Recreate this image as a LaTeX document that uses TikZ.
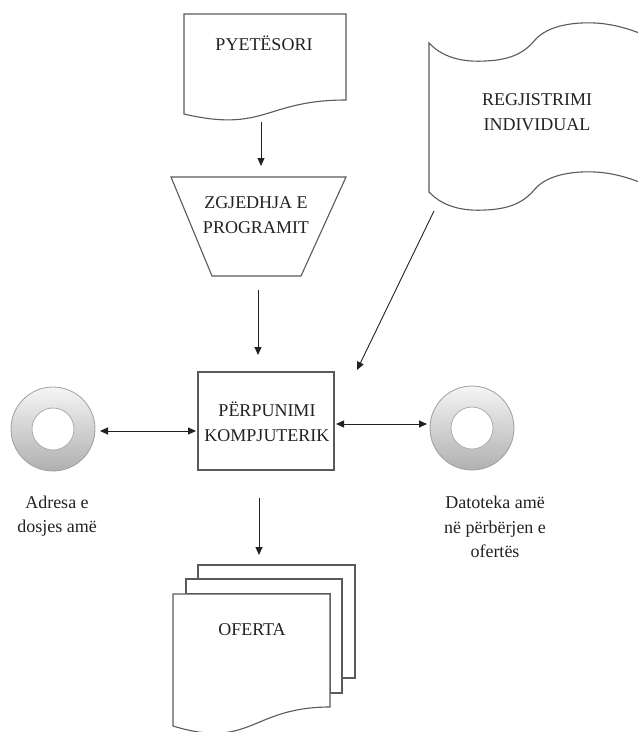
\documentclass[tikz,border=0pt]{standalone}
\usepackage{fontspec}
\setmainfont{Liberation Serif}
\usetikzlibrary{arrows.meta}
\definecolor{edge}{HTML}{5A5A5A}
\definecolor{ink}{HTML}{222222}
\tikzset{
  outline/.style={draw=edge, line width=1.1pt, fill=white},
  label/.style={text=ink, align=center, font=\fontsize{18}{24.5}\selectfont, inner sep=0pt},
  flow/.style={draw=ink, line width=0.9pt, -{Triangle[length=8pt,width=7pt]}},
  flowboth/.style={draw=ink, line width=0.9pt, {Triangle[length=8pt,width=7pt]}-{Triangle[length=8pt,width=7pt]}},
  diskring/.style={circle, draw=gray!75, line width=0.8pt, top color=gray!8, bottom color=gray!62, minimum size=84pt, inner sep=0pt},
  diskhole/.style={circle, draw=gray!65, line width=0.8pt, fill=white, minimum size=42pt, inner sep=0pt}
}
\begin{document}
\begin{tikzpicture}[x=1pt,y=-1pt]
\useasboundingbox (0,0) rectangle (638,732);
\clip (0,0) rectangle (638,732);

% questionnaire (document shape)
\draw[outline] (184,14) -- (346,14) -- (346,100)
  .. controls (265,100) and (265,133) .. (184,114) -- cycle;
\node[label] (quest) at (264,43) {PYETËSORI};

% programme selection (manual operation trapezoid)
\draw[outline] (171,177) -- (346,177) -- (301,276) -- (212,276) -- cycle;
\node[label] (select) at (256,215) {ZGJEDHJA E\\PROGRAMIT};

% individual registration (punched tape)
\draw[outline] (429,43)
  .. controls (445,60) and (468,62) .. (485,61)
  .. controls (512,60) and (525,52) .. (535,40)
  .. controls (548,25) and (575,22) .. (595,23)
  .. controls (615,24) and (635,30) .. (660,42)
  -- (660,191)
  .. controls (635,179) and (615,173) .. (595,172)
  .. controls (575,171) and (548,174) .. (535,189)
  .. controls (525,201) and (512,209) .. (485,210)
  .. controls (468,211) and (445,209) .. (429,192) -- cycle;
\node[label] (reg) at (537,112) {REGJISTRIMI\\INDIVIDUAL};

% computer processing
\node[outline, rectangle, minimum width=136pt, minimum height=98pt] (proc) at (266,421) {};
\node[label] (proctext) at (267,422) {PËRPUNIMI\\KOMPJUTERIK};

% disks
\node[diskring] (diskL) at (53,429) {};
\node[diskhole] at (diskL) {};
\node[diskring] (diskR) at (472,428) {};
\node[diskhole] at (diskR) {};
\node[label] (labL) at (57,516) {Adresa e\\dosjes amë};
\node[label] (labR) at (495,527) {Datoteka amë\\në përbërjen e\\ofertës};

% offer (multi-document)
\draw[outline] (198,565) -- (355,565) -- (355,678) -- (342,678) -- (342,579) -- (198,579) -- cycle;
\draw[outline] (186,579) -- (342,579) -- (342,693) -- (330,693) -- (330,594) -- (186,594) -- cycle;
\draw[outline] (173,594) -- (330,594) -- (330,707)
  .. controls (251,707) and (251,750) .. (173,726) -- cycle;
\node[label] (offer) at (252,630) {OFERTA};

% connector end points
\coordinate (q1) at (261,122);
\coordinate (q2) at (261,166);
\coordinate (s1) at (258,290);
\coordinate (s2) at (258,355);
\coordinate (r1) at (434,211);
\coordinate (r2) at (357,370);
\coordinate (p1) at (259,498);
\coordinate (p2) at (259,555);
\coordinate (lA) at (100,431);
\coordinate (lB) at (196,431);
\coordinate (rA) at (336,424);
\coordinate (rB) at (427,424);

\draw[flow] (q1) -- (q2);
\draw[flow] (s1) -- (s2);
\draw[flow] (r1) -- (r2);
\draw[flow] (p1) -- (p2);
\draw[flowboth] (lA) -- (lB);
\draw[flowboth] (rA) -- (rB);
\end{tikzpicture}
\end{document}
